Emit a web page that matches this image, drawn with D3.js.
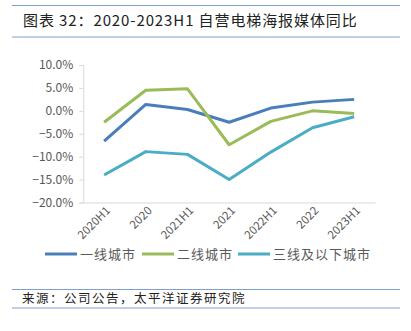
<!DOCTYPE html>
<html><head><meta charset="utf-8">
<script src="https://cdn.jsdelivr.net/npm/d3@7"></script>
<style>body{margin:0;background:#fff}svg{display:block}</style>
</head><body>
<script>
const categories = ["2020H1","2020","2021H1","2021","2022H1","2022","2023H1"];
const tier1 = [-6.6, 1.4, 0.3, -2.5, 0.6, 1.9, 2.5];
const tier2 = [-2.5, 4.5, 4.8, -7.4, -2.3, 0.0, -0.6];
const tier3 = [-14.0, -8.9, -9.5, -15.0, -9.0, -3.7, -1.3];
const seriesNames = ["一线城市","二线城市","三线及以下城市"];
const colors = ["#4a7ebb","#9bbb59","#4bacc6"];
const yTicks = [10,5,0,-5,-10,-15,-20];
const title = "图表 32：2020-2023H1 自营电梯海报媒体同比";
const source = "来源：公司公告，太平洋证券研究院";

const W=411,H=331;
const svg=d3.select("body").append("svg").attr("width",W).attr("height",H);
const font="'Noto Sans CJK SC','Noto Sans',sans-serif";

// header lines & title
svg.append("line").attr("x1",12).attr("x2",400).attr("y1",5.5).attr("y2",5.5).attr("stroke","#7f9fd0").attr("stroke-width",1.2);
svg.append("line").attr("x1",12).attr("x2",400).attr("y1",37).attr("y2",37).attr("stroke","#7f9fd0").attr("stroke-width",1.2);
svg.append("text").attr("x",23).attr("y",26).attr("font-family",font).attr("font-size",15).attr("letter-spacing",0.9).attr("fill","#222").text(title);

const x=d3.scaleBand().domain(categories).range([83.3,375]);
const y=d3.scaleLinear().domain([-20,10]).range([202.5,65]);

// axes
const yAxis=svg.append("g").attr("transform","translate(83.3,0)")
  .call(d3.axisLeft(y).tickValues(yTicks).tickSize(4).tickFormat(d=>d3.format(".1f")(d)+"%"));
yAxis.select(".domain").attr("stroke","#d9d9d9");
yAxis.selectAll(".tick line").attr("stroke","#d9d9d9");
yAxis.selectAll("text").attr("font-family",font).attr("font-size",12).attr("fill","#595959").attr("x",-10);

const xAxis=svg.append("g").attr("transform","translate(0,202.5)")
  .call(d3.axisBottom(x).tickSize(0));
xAxis.select(".domain").attr("stroke","#d9d9d9");
xAxis.selectAll("text").attr("font-family",font).attr("font-size",11.5).attr("fill","#595959")
  .attr("text-anchor","end").attr("transform","translate(4,6) rotate(-45)").attr("dy","0.35em").attr("y",0).attr("x",0);

// lines
const line=d3.line().x((d,i)=>x(categories[i])+x.bandwidth()/2).y(d=>y(d));
[tier1,tier2,tier3].forEach((s,i)=>{
  svg.append("path").datum(s).attr("d",line).attr("fill","none").attr("stroke",colors[i]).attr("stroke-width",3).attr("stroke-linejoin","round");
});

// legend
const legX=[45,142,238];
seriesNames.forEach((n,i)=>{
  svg.append("line").attr("x1",legX[i]).attr("x2",legX[i]+32).attr("y1",254).attr("y2",254).attr("stroke",colors[i]).attr("stroke-width",3);
  svg.append("text").attr("x",legX[i]+35).attr("y",258.5).attr("font-family",font).attr("font-size",13).attr("letter-spacing",1).attr("fill","#595959").text(n);
});

// footer
svg.append("line").attr("x1",12).attr("x2",400).attr("y1",289.5).attr("y2",289.5).attr("stroke","#7f9fd0").attr("stroke-width",1.2);
svg.append("line").attr("x1",12).attr("x2",400).attr("y1",308).attr("y2",308).attr("stroke","#7f9fd0").attr("stroke-width",1.2);
svg.append("text").attr("x",22).attr("y",303).attr("font-family",font).attr("font-size",12.5).attr("letter-spacing",1.5).attr("fill","#222").text(source);
</script>
</body></html>
